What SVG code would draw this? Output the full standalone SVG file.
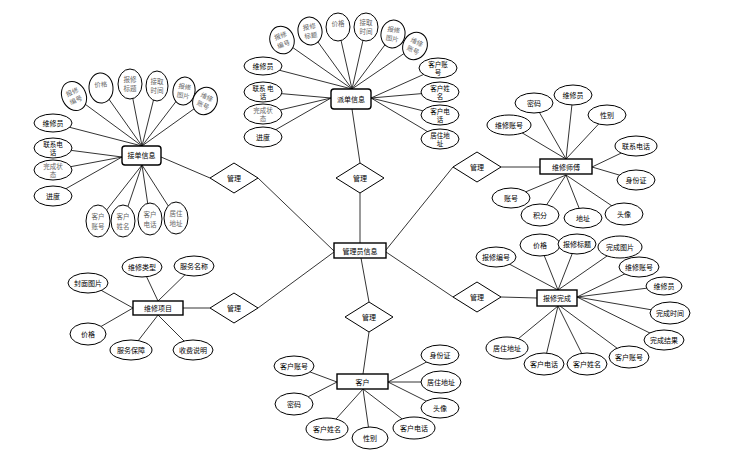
<svg xmlns="http://www.w3.org/2000/svg" width="749" height="455" viewBox="0 0 749 455">
<style>
.e{fill:#fff;stroke:#000;stroke-width:1}
.ent{fill:#fff;stroke:#000;stroke-width:1.4}
.d{fill:#fff;stroke:#000;stroke-width:1}
.t{font-family:"Noto Sans CJK SC","Noto Sans",sans-serif;font-size:7px;fill:#000;text-anchor:middle}
.g{font-family:"Noto Sans CJK SC","Noto Sans",sans-serif;font-size:6.5px;fill:#666;text-anchor:middle}
.t2{font-family:"Noto Sans CJK SC","Noto Sans",sans-serif;font-size:6.5px;fill:#000;text-anchor:middle}
#connectors line{stroke:#000;stroke-width:0.8}
</style>
<rect width="749" height="455" fill="#fff"/>
<g id="connectors">
<line x1="360" y1="193" x2="360" y2="243"/>
<line x1="258" y1="178" x2="334" y2="251"/>
<line x1="453" y1="167" x2="386" y2="250"/>
<line x1="258" y1="308" x2="334" y2="252"/>
<line x1="361" y1="258" x2="369" y2="302"/>
<line x1="386" y1="252" x2="453" y2="297"/>
<line x1="210" y1="178" x2="161" y2="157"/>
<line x1="360" y1="163" x2="352" y2="109"/>
<line x1="501" y1="167" x2="540" y2="167"/>
<line x1="501" y1="297" x2="537" y2="298"/>
<line x1="369" y1="332" x2="363" y2="374"/>
<line x1="210" y1="308" x2="183" y2="308"/>
<line x1="282" y1="40" x2="352" y2="89"/>
<line x1="310" y1="31" x2="352" y2="89"/>
<line x1="338" y1="27" x2="352" y2="89"/>
<line x1="366" y1="27" x2="352" y2="89"/>
<line x1="393" y1="34" x2="352" y2="89"/>
<line x1="415" y1="46" x2="352" y2="89"/>
<line x1="263" y1="66" x2="352" y2="89"/>
<line x1="263" y1="92" x2="331" y2="98"/>
<line x1="263" y1="114" x2="331" y2="98"/>
<line x1="263" y1="137" x2="331" y2="98"/>
<line x1="438" y1="68" x2="371" y2="98"/>
<line x1="440" y1="92" x2="371" y2="98"/>
<line x1="440" y1="115" x2="371" y2="98"/>
<line x1="440" y1="139" x2="371" y2="98"/>
<line x1="74" y1="96" x2="142" y2="146"/>
<line x1="101" y1="88" x2="142" y2="146"/>
<line x1="130" y1="84" x2="142" y2="146"/>
<line x1="157" y1="86" x2="142" y2="146"/>
<line x1="184" y1="91" x2="142" y2="146"/>
<line x1="205" y1="101" x2="142" y2="146"/>
<line x1="53" y1="123" x2="142" y2="146"/>
<line x1="53" y1="148" x2="122" y2="157"/>
<line x1="53" y1="170" x2="122" y2="157"/>
<line x1="53" y1="196" x2="122" y2="157"/>
<line x1="98" y1="221" x2="142" y2="165"/>
<line x1="123" y1="221" x2="142" y2="165"/>
<line x1="150" y1="219" x2="142" y2="165"/>
<line x1="176" y1="218" x2="142" y2="165"/>
<line x1="509" y1="125" x2="566" y2="159"/>
<line x1="534" y1="103" x2="566" y2="159"/>
<line x1="573" y1="95" x2="566" y2="159"/>
<line x1="607" y1="115" x2="566" y2="159"/>
<line x1="636" y1="146" x2="592" y2="167"/>
<line x1="636" y1="180" x2="592" y2="167"/>
<line x1="624" y1="214" x2="566" y2="175"/>
<line x1="583" y1="218" x2="566" y2="175"/>
<line x1="540" y1="215" x2="566" y2="175"/>
<line x1="511" y1="198" x2="566" y2="175"/>
<line x1="496" y1="257" x2="558" y2="290"/>
<line x1="540" y1="245" x2="558" y2="290"/>
<line x1="576" y1="244" x2="558" y2="290"/>
<line x1="620" y1="247" x2="558" y2="290"/>
<line x1="639" y1="267" x2="577" y2="297"/>
<line x1="664" y1="286" x2="577" y2="297"/>
<line x1="670" y1="313" x2="577" y2="297"/>
<line x1="664" y1="340" x2="577" y2="297"/>
<line x1="629" y1="357" x2="560" y2="306"/>
<line x1="587" y1="364" x2="558" y2="306"/>
<line x1="544" y1="364" x2="558" y2="306"/>
<line x1="507" y1="348" x2="558" y2="306"/>
<line x1="294" y1="366" x2="337" y2="382"/>
<line x1="294" y1="404" x2="337" y2="382"/>
<line x1="327" y1="429" x2="363" y2="389"/>
<line x1="370" y1="438" x2="363" y2="389"/>
<line x1="414" y1="428" x2="363" y2="389"/>
<line x1="440" y1="408" x2="388" y2="382"/>
<line x1="441" y1="382" x2="388" y2="382"/>
<line x1="440" y1="355" x2="388" y2="382"/>
<line x1="88" y1="283" x2="133" y2="308"/>
<line x1="142" y1="267" x2="158" y2="301"/>
<line x1="194" y1="266" x2="158" y2="301"/>
<line x1="88" y1="334" x2="133" y2="308"/>
<line x1="131" y1="350" x2="158" y2="315"/>
<line x1="193" y1="350" x2="158" y2="315"/>
</g>

<g id="rel-jiedan"><polygon class="d" points="210,178 234,163 258,178 234,193"/><text class="t" x="234" y="180.5">管理</text></g>
<g id="rel-paidan"><polygon class="d" points="336,178 360,163 384,178 360,193"/><text class="t" x="360" y="180.5">管理</text></g>
<g id="rel-shifu"><polygon class="d" points="453,167 477,152 501,167 477,182"/><text class="t" x="477" y="169.5">管理</text></g>
<g id="rel-xiangmu"><polygon class="d" points="210,308 234,293 258,308 234,323"/><text class="t" x="234" y="310.5">管理</text></g>
<g id="rel-kehu"><polygon class="d" points="345,317 369,302 393,317 369,332"/><text class="t" x="369" y="319.5">管理</text></g>
<g id="rel-wancheng"><polygon class="d" points="453,297 477,282 501,297 477,312"/><text class="t" x="477" y="299.5">管理</text></g>

<g id="admin"><rect class="ent" x="334" y="243" width="52" height="15"/><text class="t" x="360" y="253.5">管理员信息</text></g>
<g id="paidan"><rect class="ent" x="331" y="89" width="40" height="20" rx="3"/><text class="t" x="351" y="101.5">派单信息</text></g>
<g id="jiedan"><rect class="ent" x="122" y="146" width="39" height="19" rx="3"/><text class="t" x="141.5" y="158">接单信息</text></g>
<g id="shifu"><rect class="ent" x="540" y="159" width="52" height="15"/><text class="t" x="566" y="169.5">维修师傅</text></g>
<g id="wancheng"><rect class="ent" x="537" y="290" width="40" height="16"/><text class="t" x="557" y="300.5">报修完成</text></g>
<g id="kehu"><rect class="ent" x="337" y="374" width="51" height="15"/><text class="t" x="362.5" y="384.5">客户</text></g>
<g id="xiangmu"><rect class="ent" x="133" y="301" width="50" height="14"/><text class="t" x="158" y="310.5">维修项目</text></g>

<g id="pd-bxbh" transform="translate(282,40) rotate(-20)"><ellipse class="e" rx="12" ry="14"/><text class="g" y="-2">报修</text><text class="g" y="7">编号</text></g>
<g id="pd-bxbt" transform="translate(310,31) rotate(-10)"><ellipse class="e" rx="12" ry="14"/><text class="g" y="-2">报修</text><text class="g" y="7">标题</text></g>
<g id="pd-jg" transform="translate(338,27)"><ellipse class="e" rx="12" ry="14"/><text class="g" y="-1">价格</text></g>
<g id="pd-jqsj" transform="translate(366,27)"><ellipse class="e" rx="12" ry="14"/><text class="g" y="-2">接取</text><text class="g" y="7">时间</text></g>
<g id="pd-bxtp" transform="translate(393,34) rotate(10)"><ellipse class="e" rx="12" ry="14"/><text class="g" y="-2">报修</text><text class="g" y="7">图片</text></g>
<g id="pd-wxzh" transform="translate(415,46) rotate(25)"><ellipse class="e" rx="12" ry="14"/><text class="g" y="-2">维修</text><text class="g" y="7">账号</text></g>
<g id="pd-wxy" transform="translate(263,66)"><ellipse class="e" rx="19" ry="9"/><text class="t" y="2.5">维修员</text></g>
<g id="pd-lxdh" transform="translate(263,92)"><ellipse class="e" rx="19" ry="10"/><text class="t2" y="-1.5">联系 电</text><text class="t2" y="7">话</text></g>
<g id="pd-wczt" transform="translate(263,114)"><ellipse class="e" rx="19" ry="10"/><text class="g" y="-1.5">完成状</text><text class="g" y="7">态</text></g>
<g id="pd-jd" transform="translate(263,137)"><ellipse class="e" rx="19" ry="10"/><text class="t" y="2.5">进度</text></g>
<g id="pd-khzh" transform="translate(438,68)"><ellipse class="e" rx="19" ry="10"/><text class="t2" y="-1.5">客户账</text><text class="t2" y="7">号</text></g>
<g id="pd-khxm" transform="translate(440,92)"><ellipse class="e" rx="19" ry="10"/><text class="t2" y="-1.5">客户姓</text><text class="t2" y="7">名</text></g>
<g id="pd-khdh" transform="translate(440,115)"><ellipse class="e" rx="19" ry="10"/><text class="t2" y="-1.5">客户电</text><text class="t2" y="7">话</text></g>
<g id="pd-jzdz" transform="translate(440,139)"><ellipse class="e" rx="19" ry="10"/><text class="t2" y="-1.5">居住地</text><text class="t2" y="7">址</text></g>

<g id="jd-bxbh" transform="translate(74,96) rotate(-25)"><ellipse class="e" rx="12" ry="15"/><text class="g" y="-2">报修</text><text class="g" y="7">编号</text></g>
<g id="jd-jg" transform="translate(101,88) rotate(-5)"><ellipse class="e" rx="12" ry="15"/><text class="g" y="-1">价格</text></g>
<g id="jd-bxbt" transform="translate(130,84)"><ellipse class="e" rx="12" ry="15"/><text class="g" y="-2">报修</text><text class="g" y="7">标题</text></g>
<g id="jd-jqsj" transform="translate(157,86)"><ellipse class="e" rx="11" ry="15"/><text class="g" y="-2">接取</text><text class="g" y="7">时间</text></g>
<g id="jd-bxtp" transform="translate(184,91) rotate(10)"><ellipse class="e" rx="11" ry="14"/><text class="g" y="-2">报修</text><text class="g" y="7">图片</text></g>
<g id="jd-wxzh" transform="translate(205,101) rotate(25)"><ellipse class="e" rx="12" ry="14"/><text class="g" y="-2">维修</text><text class="g" y="7">账号</text></g>
<g id="jd-wxy" transform="translate(53,123)"><ellipse class="e" rx="19" ry="9"/><text class="t" y="2.5">维修员</text></g>
<g id="jd-lxdh" transform="translate(53,148)"><ellipse class="e" rx="19" ry="10"/><text class="t2" y="-1.5">联系电</text><text class="t2" y="7">话</text></g>
<g id="jd-wczt" transform="translate(53,170)"><ellipse class="e" rx="19" ry="10"/><text class="g" y="-1.5">完成状</text><text class="g" y="7">态</text></g>
<g id="jd-jd" transform="translate(53,196)"><ellipse class="e" rx="19" ry="10"/><text class="t" y="2.5">进度</text></g>
<g id="jd-khzh" transform="translate(98,221)"><ellipse class="e" rx="12" ry="16"/><text class="g" y="-2">客户</text><text class="g" y="7.5">账号</text></g>
<g id="jd-khxm" transform="translate(123,221)"><ellipse class="e" rx="12" ry="16"/><text class="g" y="-2">客户</text><text class="g" y="7.5">姓名</text></g>
<g id="jd-khdh" transform="translate(150,219)"><ellipse class="e" rx="12" ry="16"/><text class="g" y="-2">客户</text><text class="g" y="7.5">电话</text></g>
<g id="jd-jzdz" transform="translate(176,218)"><ellipse class="e" rx="12" ry="16"/><text class="g" y="-2">居住</text><text class="g" y="7.5">地址</text></g>

<g id="sf-wxzh" transform="translate(509,125)"><ellipse class="e" rx="22" ry="10"/><text class="t" y="2.5">维修账号</text></g>
<g id="sf-mm" transform="translate(534,103)"><ellipse class="e" rx="19" ry="10"/><text class="t" y="2.5">密码</text></g>
<g id="sf-wxy" transform="translate(573,95)"><ellipse class="e" rx="19" ry="10"/><text class="t" y="2.5">维修员</text></g>
<g id="sf-xb" transform="translate(607,115)"><ellipse class="e" rx="19" ry="10"/><text class="t" y="2.5">性别</text></g>
<g id="sf-lxdh" transform="translate(636,146)"><ellipse class="e" rx="21" ry="10"/><text class="t" y="2.5">联系电话</text></g>
<g id="sf-sfz" transform="translate(636,180)"><ellipse class="e" rx="19" ry="10"/><text class="t" y="2.5">身份证</text></g>
<g id="sf-tx" transform="translate(624,214)"><ellipse class="e" rx="19" ry="11"/><text class="t" y="2.5">头像</text></g>
<g id="sf-dz" transform="translate(583,218)"><ellipse class="e" rx="19" ry="10"/><text class="t" y="2.5">地址</text></g>
<g id="sf-jf" transform="translate(540,215)"><ellipse class="e" rx="19" ry="11"/><text class="t" y="2.5">积分</text></g>
<g id="sf-zh" transform="translate(511,198)"><ellipse class="e" rx="19" ry="10"/><text class="t" y="2.5">账号</text></g>

<g id="wc-bxbh" transform="translate(496,257)"><ellipse class="e" rx="20" ry="10"/><text class="t" y="2.5">报修编号</text></g>
<g id="wc-jg" transform="translate(540,245)"><ellipse class="e" rx="20" ry="11"/><text class="t" y="2.5">价格</text></g>
<g id="wc-bxbt" transform="translate(577,244)"><ellipse class="e" rx="19" ry="10"/><text class="t" y="2.5">报修标题</text></g>
<g id="wc-wctp" transform="translate(620,247)"><ellipse class="e" rx="22" ry="11"/><text class="t" y="2.5">完成图片</text></g>
<g id="wc-wxzh" transform="translate(639,267)"><ellipse class="e" rx="20" ry="10"/><text class="t" y="2.5">维修账号</text></g>
<g id="wc-wxy" transform="translate(664,286)"><ellipse class="e" rx="18" ry="9"/><text class="t" y="2.5">维修员</text></g>
<g id="wc-wcsj" transform="translate(670,313)"><ellipse class="e" rx="20" ry="11"/><text class="t" y="2.5">完成时间</text></g>
<g id="wc-wcjg" transform="translate(664,340)"><ellipse class="e" rx="20" ry="10"/><text class="t" y="2.5">完成结果</text></g>
<g id="wc-khzh" transform="translate(629,357)"><ellipse class="e" rx="20" ry="11"/><text class="t" y="2.5">客户账号</text></g>
<g id="wc-khxm" transform="translate(587,364)"><ellipse class="e" rx="20" ry="11"/><text class="t" y="2.5">客户姓名</text></g>
<g id="wc-khdh" transform="translate(544,364)"><ellipse class="e" rx="20" ry="11"/><text class="t" y="2.5">客户电话</text></g>
<g id="wc-jzdz" transform="translate(507,348)"><ellipse class="e" rx="21" ry="11"/><text class="t" y="2.5">居住地址</text></g>

<g id="kh-khzh" transform="translate(294,366)"><ellipse class="e" rx="20" ry="10"/><text class="t" y="2.5">客户账号</text></g>
<g id="kh-mm" transform="translate(294,404)"><ellipse class="e" rx="19" ry="11"/><text class="t" y="2.5">密码</text></g>
<g id="kh-khxm" transform="translate(327,429)"><ellipse class="e" rx="21" ry="11"/><text class="t" y="2.5">客户姓名</text></g>
<g id="kh-xb" transform="translate(370,438)"><ellipse class="e" rx="18" ry="11"/><text class="t" y="2.5">性别</text></g>
<g id="kh-khdh" transform="translate(414,428)"><ellipse class="e" rx="21" ry="11"/><text class="t" y="2.5">客户电话</text></g>
<g id="kh-tx" transform="translate(440,408)"><ellipse class="e" rx="19" ry="10"/><text class="t" y="2.5">头像</text></g>
<g id="kh-jzdz" transform="translate(441,382)"><ellipse class="e" rx="20" ry="11"/><text class="t" y="2.5">居住地址</text></g>
<g id="kh-sfz" transform="translate(440,355)"><ellipse class="e" rx="19" ry="10"/><text class="t" y="2.5">身份证</text></g>

<g id="xm-fmtp" transform="translate(88,283)"><ellipse class="e" rx="20" ry="10"/><text class="t" y="2.5">封面图片</text></g>
<g id="xm-wxlx" transform="translate(142,267)"><ellipse class="e" rx="20" ry="10"/><text class="t" y="2.5">维修类型</text></g>
<g id="xm-fwmc" transform="translate(194,266)"><ellipse class="e" rx="20" ry="10"/><text class="t" y="2.5">服务名称</text></g>
<g id="xm-jg" transform="translate(88,334)"><ellipse class="e" rx="18" ry="11"/><text class="t" y="2.5">价格</text></g>
<g id="xm-fwbz" transform="translate(131,350)"><ellipse class="e" rx="21" ry="10"/><text class="t" y="2.5">服务保障</text></g>
<g id="xm-sfsm" transform="translate(193,350)"><ellipse class="e" rx="20" ry="10"/><text class="t" y="2.5">收费说明</text></g>
</svg>
